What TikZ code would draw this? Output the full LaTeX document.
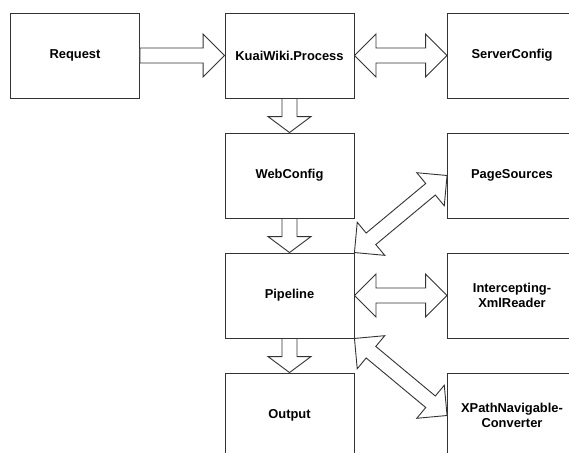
\documentclass[tikz,border=0pt]{standalone}
\usepackage{fontspec}
\setmainfont{Liberation Sans}
\usetikzlibrary{calc}
\tikzset{
  box/.style={draw=black!80, line width=0.9pt, minimum width=129pt, minimum height=85pt, inner sep=0pt, align=center, font=\bfseries\fontsize{12.9}{15}\selectfont},
  fat/.style={draw=black!80, fill=white, line width=0.9pt, line join=miter}
}
\newcommand\fatone[3]{%
  \coordinate (fA) at (#1); \coordinate (fB) at (#2);
  \coordinate (fH) at ($(fB)!#3!(fA)$);
  \draw[fat] ($(fA)!7.5pt!90:(fB)$) -- ($(fH)!7.5pt!90:(fB)$) -- ($(fH)!21.5pt!90:(fB)$) -- (fB)
    -- ($(fH)!21.5pt!-90:(fB)$) -- ($(fH)!7.5pt!-90:(fB)$) -- ($(fA)!7.5pt!-90:(fB)$) -- cycle;
}
\newcommand\fattwo[3]{%
  \coordinate (fA) at (#1); \coordinate (fB) at (#2);
  \coordinate (fH) at ($(fB)!#3!(fA)$);
  \coordinate (fG) at ($(fA)!#3!(fB)$);
  \draw[fat] (fA) -- ($(fG)!21.5pt!90:(fB)$) -- ($(fG)!7.5pt!90:(fB)$) -- ($(fH)!7.5pt!90:(fB)$) -- ($(fH)!21.5pt!90:(fB)$) -- (fB)
    -- ($(fH)!21.5pt!-90:(fB)$) -- ($(fH)!7.5pt!-90:(fB)$) -- ($(fG)!7.5pt!-90:(fB)$) -- ($(fG)!21.5pt!-90:(fB)$) -- cycle;
}
\begin{document}
\begin{tikzpicture}[x=1pt,y=-1pt]
  \clip (0,0) rectangle (569,452);
  \fill[white] (0,0) rectangle (569,452);
  \node[box] (req) at (75,55.5) {Request};
  \node[box] (kw) at (289.5,55.5) {KuaiWiki.Process};
  \node[box] (sc) at (512,55.5) {ServerConfig};
  \node[box] (wc) at (289.5,175.5) {WebConfig};
  \node[box] (ps) at (512,175.5) {PageSources};
  \node[box] (pl) at (289.5,295.5) {Pipeline};
  \node[box] (ix) at (512,295.5) {Intercepting-\\XmlReader};
  \node[box] (out) at (289.5,415.5) {Output};
  \node[box] (xp) at (512,415.5) {XPathNavigable-\\Converter};
  \fatone{req.east}{kw.west}{21.5pt}
  \fattwo{kw.east}{sc.west}{21.5pt}
  \fatone{kw.south}{wc.north}{16pt}
  \fatone{wc.south}{pl.north}{16pt}
  \fatone{pl.south}{out.north}{16pt}
  \fattwo{pl.north east}{ps.west}{21.5pt}
  \fattwo{pl.east}{ix.west}{21.5pt}
  \fattwo{pl.south east}{xp.west}{21.5pt}
\end{tikzpicture}
\end{document}
